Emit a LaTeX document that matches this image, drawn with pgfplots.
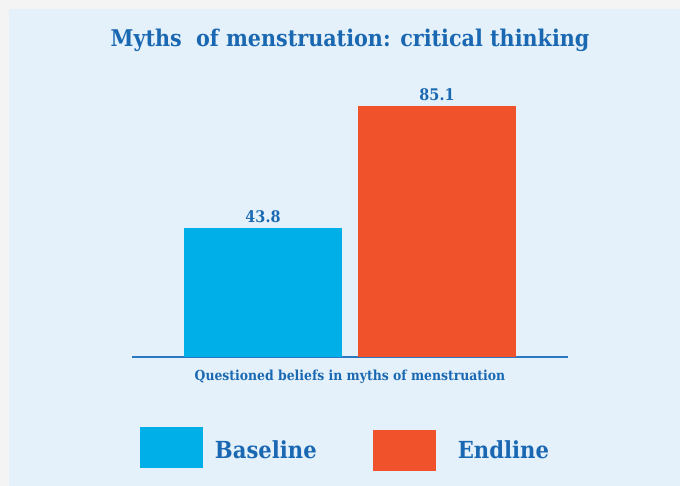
\documentclass[border=0pt]{standalone}
\usepackage{pgfplots}
\pgfplotsset{compat=1.18}
\usepackage{fontspec}
\setmainfont{DejaVu Serif Condensed}
\definecolor{bgout}{HTML}{F4F4F4}
\definecolor{panel}{HTML}{E4F1FA}
\definecolor{txt}{HTML}{1A68B2}
\definecolor{axcol}{HTML}{2A78C2}
\definecolor{barA}{HTML}{00AEE8}
\definecolor{barB}{HTML}{F0522B}
\begin{document}
\begin{tikzpicture}[x=1pt,y=1pt]
\fill[bgout] (0,0) rectangle (680,486);
\fill[panel] (9,0) rectangle (680,477);
\node[font=\fontsize{23}{27}\selectfont\bfseries, text=txt] at (350,446) {Myths\ \ of menstruation: critical thinking};
\begin{axis}[
  at={(132pt,129pt)}, anchor=south west,
  scale only axis, width=436pt, height=295pt,
  xmin=132, xmax=568, ymin=0, ymax=100,
  /pgf/number format/assume math mode=true,
  axis y line=none,
  axis x line*=bottom,
  x axis line style={draw=axcol, line width=1.2pt, -},
  xtick={350}, xticklabels={Questioned beliefs in myths of menstruation},
  major tick length=0pt,
  xticklabel style={font=\fontsize{13.8}{16}\selectfont\bfseries, text=txt, yshift=-9pt},
  ytick=\empty,
  ybar, bar width=158pt, bar shift=0pt,
  nodes near coords,
  nodes near coords style={font=\fontsize{16}{18}\selectfont\bfseries, text=txt, yshift=1.5pt, /pgf/number format/.cd, fixed, precision=1, fixed zerofill, assume math mode=true},
  legend style={at={(axis description cs:0.011,-0.23)}, anchor=north west, draw=none, fill=none,
    legend columns=2, font=\fontsize{23.5}{27}\selectfont\bfseries, text=txt,
    nodes={inner sep=0pt},
    /tikz/every even column/.append style={column sep=56pt}},
]
\addplot[fill=barA, draw=none,
  legend image code/.code={\fill[barA] (0pt,-18pt) rectangle (63pt,23pt); \path (75pt,0pt);}] coordinates {(263,43.8)};
\addlegendentry{Baseline}
\addplot[fill=barB, draw=none,
  legend image code/.code={\fill[barB] (0pt,-21pt) rectangle (63pt,20pt); \path (85pt,0pt);}] coordinates {(437,85.1)};
\addlegendentry{Endline}
\end{axis}
\end{tikzpicture}
\end{document}
